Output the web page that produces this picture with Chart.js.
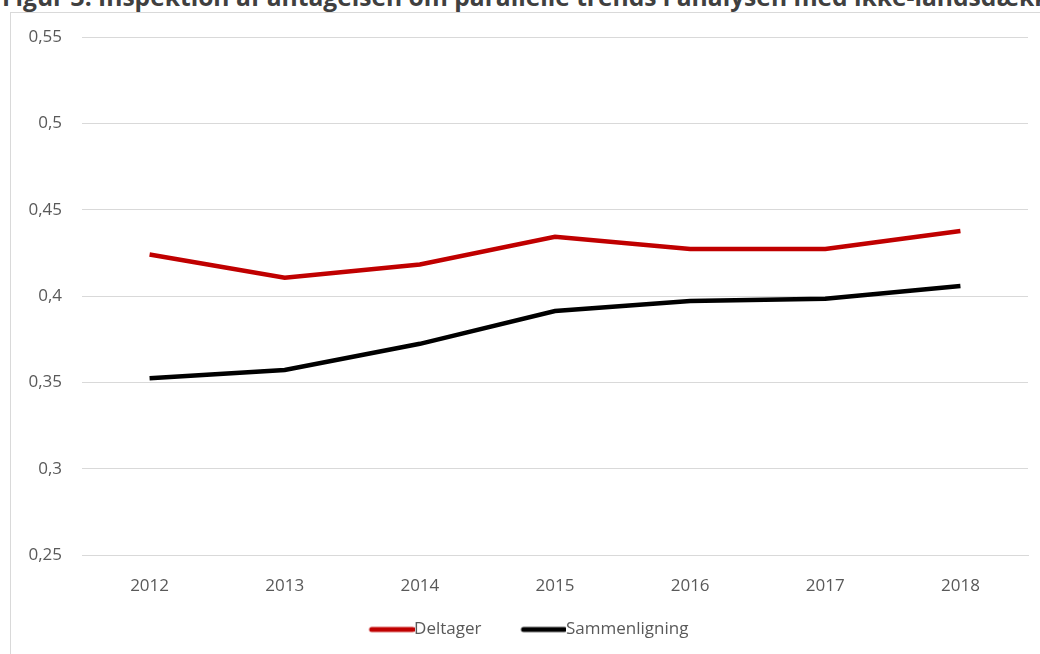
<!DOCTYPE html>
<html>
<head>
<meta charset="utf-8">
<script src="https://cdn.jsdelivr.net/npm/chart.js@4.4.1/dist/chart.umd.min.js"></script>
<style>
  html, body { margin: 0; padding: 0; background: #ffffff; }
  #wrap { position: relative; width: 1040px; height: 654px; overflow: hidden; background: #fff; }
  #title { position: absolute; left: 2px; top: -16px; white-space: nowrap; font-family: "Open Sans", sans-serif; font-weight: 700; font-size: 24.6px; line-height: 25px; color: #404040; }
  #frame { position: absolute; left: 10px; top: 12px; width: 1100px; height: 700px; border-left: 1px solid #d9d9d9; border-top: 1px solid #d9d9d9; }
  #c { position: absolute; left: 0; top: 0; }
</style>
</head>
<body>
<div id="wrap">
  <div id="title">Figur 3: Inspektion af antagelsen om parallelle trends i analysen med ikke-landsdækkende forsøg</div>
  <div id="frame"></div>
  <canvas id="c" width="1040" height="654"></canvas>
</div>
<script>
const categories = ["2012", "2013", "2014", "2015", "2016", "2017", "2018"];
const deltager = [0.424, 0.4106, 0.4183, 0.4343, 0.4272, 0.4272, 0.4376];
const sammenligning = [0.3524, 0.3572, 0.3723, 0.3913, 0.3971, 0.3984, 0.4058];
const seriesNames = ["Deltager", "Sammenligning"];
const seriesColors = ["#C00000", "#000000"];
const yMin = 0.25, yMax = 0.55, yStep = 0.05;

const FONT = '"Open Sans", sans-serif';

// legend marker: a thick line sitting right next to the label text (Excel style)
function legendMarker(color) {
  const c = document.createElement('canvas');
  c.width = 84; c.height = 8;
  const g = c.getContext('2d');
  g.strokeStyle = color; g.lineWidth = 5; g.lineCap = 'round';
  g.beginPath(); g.moveTo(41, 4); g.lineTo(82, 4); g.stroke();
  return c;
}

new Chart(document.getElementById('c'), {
  type: 'line',
  data: {
    labels: categories,
    datasets: [
      { label: seriesNames[0], data: deltager, borderColor: seriesColors[0], backgroundColor: seriesColors[0], borderWidth: 4.5, pointRadius: 0, tension: 0, pointStyle: legendMarker(seriesColors[0]) },
      { label: seriesNames[1], data: sammenligning, borderColor: seriesColors[1], backgroundColor: seriesColors[1], borderWidth: 4.5, pointRadius: 0, tension: 0, pointStyle: legendMarker(seriesColors[1]) }
    ]
  },
  options: {
    responsive: false,
    animation: false,
    layout: { padding: { left: 0, right: 12, top: 37, bottom: 6 } },
    scales: {
      x: {
        offset: true,
        grid: { display: false, drawTicks: false },
        border: { display: true, color: '#d9d9d9', width: 1 },
        ticks: { color: '#595959', font: { family: FONT, size: 17 }, padding: 21, maxRotation: 0 },
        afterFit: (s) => { s.height = 56; }
      },
      y: {
        min: yMin, max: yMax,
        grid: { color: '#d9d9d9', lineWidth: 1, drawTicks: false },
        border: { display: false },
        ticks: {
          stepSize: yStep, color: '#595959', font: { family: FONT, size: 17 }, padding: 20,
          callback: (v) => String(Math.round(v * 100) / 100).replace('.', ',')
        },
        afterFit: (s) => { s.width = 82; }
      }
    },
    plugins: {
      title: { display: false },
      tooltip: { enabled: false },
      legend: {
        position: 'bottom',
        labels: {
          usePointStyle: true, pointStyleWidth: 66, boxHeight: 17,
          color: '#595959', font: { family: FONT, size: 17 }, padding: 10
        }
      }
    }
  }
});
</script>
</body>
</html>
